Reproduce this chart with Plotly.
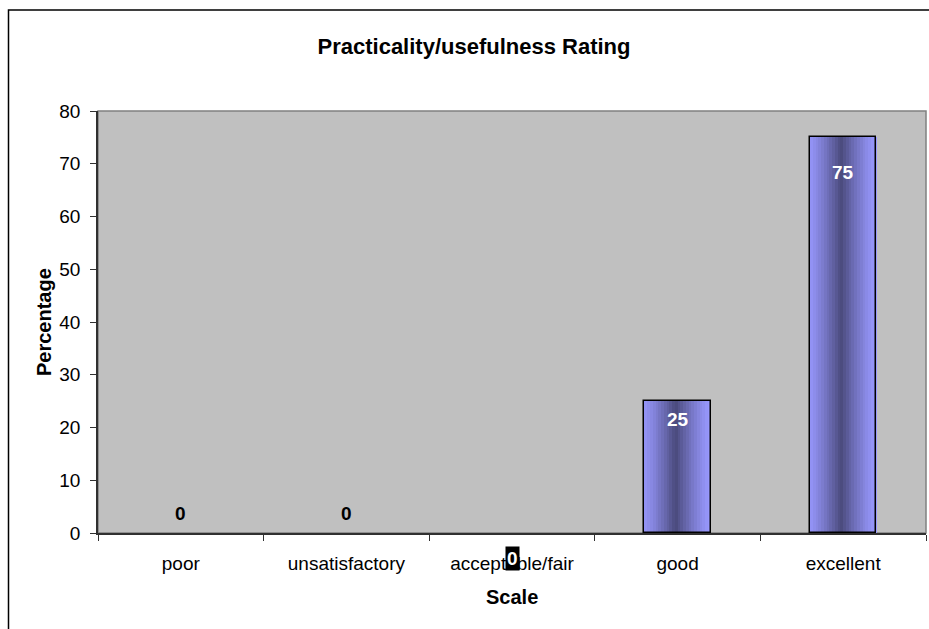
import plotly.graph_objects as go

categories = ["poor", "unsatisfactory", "acceptable/fair", "good", "excellent"]
percentages = [0, 0, 0, 25, 75]
y_ticks = [0, 10, 20, 30, 40, 50, 60, 70, 80]

# ---- style ----
W, H = 929, 629
L, R, T, B = 98, 3, 111, 96
FONT = "Liberation Sans, Arial, sans-serif"
BAR_W = 0.4
N_SLICES = 24
LIGHT = (153, 153, 255)
DARK = (74, 74, 124)

def mix(t):
    return "rgb(%d,%d,%d)" % tuple(round(LIGHT[k] + (DARK[k] - LIGHT[k]) * t) for k in range(3))

fig = go.Figure()

# gradient bars built from thin bar slices
for i in range(N_SLICES):
    c = (i + 0.5) / N_SLICES
    d = abs(c - 0.47) / 0.53
    t = max(0.0, 1 - d) ** 1.3
    fig.add_trace(go.Bar(
        x=categories, y=percentages,
        width=BAR_W / N_SLICES + 0.002,
        offset=-BAR_W / 2 + i * BAR_W / N_SLICES,
        marker=dict(color=mix(t), line=dict(width=0)),
        hoverinfo="skip", showlegend=False,
    ))

# outline
fig.add_trace(go.Bar(
    x=categories, y=percentages, width=BAR_W,
    marker=dict(color="rgba(0,0,0,0)",
                line=dict(color="black", width=[1.5 if v > 0 else 0 for v in percentages])),
    showlegend=False,
))

# data labels
label_shift = [20, 20, None, -18, -35]
for i, (cat, v) in enumerate(zip(categories, percentages)):
    if label_shift[i] is None:
        fig.add_annotation(x=cat, y=-0.06, yref="paper", yanchor="middle",
                           text="<b>%d</b>" % v, showarrow=False,
                           bgcolor="black", borderpad=1,
                           font=dict(family=FONT, size=19, color="white"))
    else:
        fig.add_annotation(x=cat, y=v, yshift=label_shift[i], yanchor="middle",
                           text="<b>%d</b>" % v, showarrow=False,
                           font=dict(family=FONT, size=19,
                                     color="white" if v > 0 else "black"))

pw = W - L - R
ph = H - T - B
# outer chart frame (cut by the image edges)
fig.add_shape(type="rect", xref="paper", yref="paper",
              x0=(8.5 - L) / pw, x1=(W + 20 - L) / pw,
              y0=(H - B - (H + 20)) / ph, y1=(H - B - 10) / ph,
              line=dict(color="black", width=1.5), layer="below")
# plot area border
fig.add_shape(type="rect", xref="paper", yref="paper", x0=0, x1=1, y0=0, y1=1,
              line=dict(color="#808080", width=1.5), layer="below")

fig.add_annotation(text="<b>Scale</b>", xref="paper", yref="paper",
                   x=0.5, y=(H - B - 597) / ph, yanchor="middle", showarrow=False,
                   font=dict(family=FONT, size=20, color="black"))
fig.add_annotation(text="<b>Percentage</b>", xref="paper", yref="paper",
                   x=(44 - L) / pw, y=0.5, xanchor="center", yanchor="middle",
                   textangle=-90, showarrow=False,
                   font=dict(family=FONT, size=20, color="black"))

fig.update_layout(
    width=W, height=H,
    margin=dict(l=L, r=R, t=T, b=B, autoexpand=False),
    paper_bgcolor="white", plot_bgcolor="#C0C0C0",
    barmode="overlay", bargap=0,
    font=dict(family=FONT, size=19, color="black"),
    title=dict(text="<b>Practicality/usefulness Rating</b>", xref="paper",
               x=(474 - L) / pw, xanchor="center",
               y=1 - 46 / H, yanchor="middle",
               font=dict(family=FONT, size=22, color="black")),
    xaxis=dict(type="category", categoryorder="array", categoryarray=categories,
               range=[-0.5, len(categories) - 0.5],
               showline=True, linecolor="#303030", linewidth=1.5,
               ticks="outside", tickson="boundaries", ticklen=6, tickwidth=1,
               tickcolor="#303030", ticklabelstandoff=12,
               showgrid=False, zeroline=False, fixedrange=True),
    yaxis=dict(range=[0, 80], tickvals=y_ticks,
               showline=True, linecolor="#303030", linewidth=1.5,
               ticks="outside", ticklen=6, tickwidth=1, tickcolor="#303030",
               ticklabelstandoff=6,
               showgrid=False, zeroline=False, fixedrange=True),
)

fig.write_html("out.html", config={"displayModeBar": False},
               post_script="document.body.style.margin='0';document.body.style.overflow='hidden';")
